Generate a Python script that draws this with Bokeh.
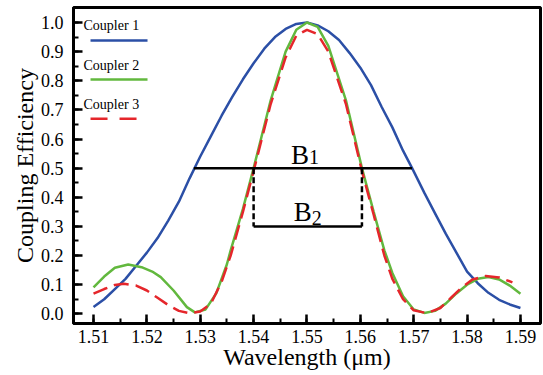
from bokeh.plotting import figure
from bokeh.models import SingleIntervalTicker, PrintfTickFormatter, Range1d
from bokeh.core.properties import value
from bokeh.embed import file_html
from bokeh.resources import INLINE

# ---- data ----
wl_c1 = [1.510, 1.512, 1.514, 1.516, 1.518, 1.520, 1.522, 1.524, 1.526, 1.528,
         1.530, 1.532, 1.534, 1.536, 1.538, 1.540, 1.542, 1.544, 1.546, 1.548,
         1.550, 1.552, 1.554, 1.556, 1.558, 1.560, 1.562, 1.564, 1.566, 1.568,
         1.5697, 1.572, 1.574, 1.576, 1.578, 1.580, 1.582, 1.584, 1.586, 1.588, 1.590]
eff_c1 = [0.023, 0.05, 0.085, 0.12, 0.165, 0.21, 0.26, 0.32, 0.385, 0.465,
          0.54, 0.61, 0.68, 0.745, 0.805, 0.86, 0.91, 0.95, 0.978, 0.995,
          1.0, 0.99, 0.97, 0.94, 0.895, 0.845, 0.785, 0.71, 0.64, 0.56,
          0.5, 0.415, 0.345, 0.275, 0.21, 0.145, 0.105, 0.072, 0.048, 0.032, 0.02]

wl_c2 = [1.510, 1.512, 1.514, 1.5165, 1.519, 1.521, 1.5226, 1.525, 1.5275, 1.529,
         1.531, 1.533, 1.535, 1.5357, 1.538, 1.540, 1.5432, 1.546, 1.548, 1.550,
         1.552, 1.554, 1.5573, 1.5603, 1.5625, 1.5645, 1.566, 1.568, 1.570, 1.572,
         1.574, 1.576, 1.578, 1.580, 1.582, 1.584, 1.586, 1.588, 1.590]
eff_c2 = [0.091, 0.128, 0.158, 0.169, 0.16, 0.145, 0.126, 0.08, 0.023, 0.005,
          0.015, 0.07, 0.17, 0.218, 0.36, 0.5, 0.733, 0.9, 0.975, 1.0,
          0.985, 0.92, 0.733, 0.5, 0.35, 0.218, 0.14, 0.06, 0.015, 0.003,
          0.01, 0.035, 0.07, 0.1, 0.12, 0.126, 0.118, 0.097, 0.069]

wl_c3 = [1.510, 1.512, 1.514, 1.5157, 1.518, 1.520, 1.522, 1.524, 1.526, 1.528,
         1.530, 1.532, 1.534, 1.5357, 1.538, 1.540, 1.5432, 1.546, 1.548, 1.550,
         1.552, 1.554, 1.5573, 1.5603, 1.5625, 1.5645, 1.566, 1.568, 1.570, 1.5725,
         1.575, 1.577, 1.579, 1.581, 1.5835, 1.586, 1.5885]
eff_c3 = [0.069, 0.085, 0.099, 0.103, 0.097, 0.08, 0.055, 0.03, 0.01, 0.002,
          0.008, 0.035, 0.11, 0.2, 0.35, 0.49, 0.72, 0.88, 0.955, 0.975,
          0.96, 0.9, 0.72, 0.49, 0.34, 0.2, 0.12, 0.05, 0.012, 0.002,
          0.02, 0.055, 0.09, 0.118, 0.13, 0.125, 0.108]

series_names = ["Coupler 1", "Coupler 2", "Coupler 3"]
series_colors = ["#2b4fa6", "#62b83e", "#e5262b"]

# bandwidth markers
b1_level = 0.5
b1_left, b1_right = 1.5288, 1.5697
b2_bottom = 0.3
b2_left, b2_right = 1.5400, 1.5603

x_ticks_interval = 0.01
y_ticks_interval = 0.1
x_title = "Wavelength (μm)"
y_title = "Coupling Efficiency"

SERIF = "Liberation Serif"

x_lo, x_hi = 1.50625, 1.59376
y_lo, y_hi = -0.0333, 1.0515

p = figure(width=543, height=375, output_backend="svg", toolbar_location=None,
           title=None,
           x_range=Range1d(x_lo, x_hi), y_range=Range1d(y_lo, y_hi),
           min_border_left=73, min_border_right=3, min_border_top=7, min_border_bottom=52)

p.xgrid.visible = False
p.ygrid.visible = False
p.outline_line_color = "black"
p.outline_line_width = 3
p.background_fill_color = "white"
p.border_fill_color = "white"

for ax in (p.xaxis[0], p.yaxis[0]):
    ax.axis_line_width = 3
    ax.axis_line_color = "black"
    ax.major_tick_in = 9
    ax.major_tick_out = 0
    ax.minor_tick_in = 5
    ax.minor_tick_out = 0
    ax.major_tick_line_width = 2.5
    ax.minor_tick_line_width = 2
    ax.major_label_text_font = SERIF
    ax.major_label_text_font_size = "18px"
    ax.major_label_text_color = "black"
    ax.axis_label_text_font = SERIF
    ax.axis_label_text_font_style = "normal"
    ax.axis_label_text_font_size = "24px"
    ax.axis_label_text_color = "black"

p.xaxis.ticker = SingleIntervalTicker(interval=x_ticks_interval, num_minor_ticks=2)
p.yaxis.ticker = SingleIntervalTicker(interval=y_ticks_interval, num_minor_ticks=2)
p.xaxis.formatter = PrintfTickFormatter(format="%.2f")
p.yaxis.formatter = PrintfTickFormatter(format="%.1f")
p.xaxis.axis_label = x_title
p.yaxis.axis_label = y_title
p.xaxis.major_label_standoff = 6
p.xaxis.axis_label_standoff = -2
p.yaxis.major_label_standoff = 10
p.yaxis.axis_label_standoff = 0

# curves
p.line(wl_c1, eff_c1, line_color=series_colors[0], line_width=2.5)
p.line(wl_c2, eff_c2, line_color=series_colors[1], line_width=2.5)
p.line(wl_c3, eff_c3, line_color=series_colors[2], line_width=2.5, line_dash="15 7")

# bandwidth annotations
p.line([b1_left, b1_right], [b1_level, b1_level], line_color="black", line_width=2.5)
p.line([b2_left, b2_right], [b2_bottom, b2_bottom], line_color="black", line_width=2.5)
p.line([b2_left, b2_left], [b1_level, b2_bottom], line_color="black", line_width=2.5, line_dash="6 3")
p.line([b2_right, b2_right], [b1_level, b2_bottom], line_color="black", line_width=2.5, line_dash="6 3")

mid = (b1_left + b1_right) / 2
p.text([mid], [b1_level + 0.045], text=["B"], text_font=value(SERIF), text_font_size="27px",
       text_align="right", text_baseline="alphabetic", x_offset=6, text_color="black")
p.text([mid], [b1_level + 0.045], text=["1"], text_font=value(SERIF), text_font_size="20px",
       text_align="left", text_baseline="alphabetic", x_offset=6, y_offset=2, text_color="black")
mid2 = (b2_left + b2_right) / 2
p.text([mid2], [b2_bottom + 0.05], text=["B"], text_font=value(SERIF), text_font_size="27px",
       text_align="right", text_baseline="alphabetic", x_offset=4, text_color="black")
p.text([mid2], [b2_bottom + 0.05], text=["2"], text_font=value(SERIF), text_font_size="20px",
       text_align="left", text_baseline="alphabetic", x_offset=4, y_offset=6, text_color="black")

# manual legend (label above its line sample), placed in the upper-left corner
leg_x_text = 1.50813
leg_x0, leg_x1 = 1.50944, 1.52012
leg_x1_dash = 1.51806
leg_text_y = [0.99, 0.852, 0.7186]
leg_line_y = [0.938, 0.804, 0.670]
for i, name in enumerate(series_names):
    p.text([leg_x_text], [leg_text_y[i]], text=[name], text_font=value(SERIF),
           text_font_size="14px", text_align="left", text_baseline="middle", text_color="black")
    if i < 2:
        p.line([leg_x0, leg_x1], [leg_line_y[i]] * 2, line_color=series_colors[i], line_width=2.5)
    else:
        p.line([leg_x0, leg_x1_dash], [leg_line_y[i]] * 2, line_color=series_colors[i],
               line_width=2.5, line_dash="17 12")

open("out.html", "w").write(file_html(p, INLINE))
